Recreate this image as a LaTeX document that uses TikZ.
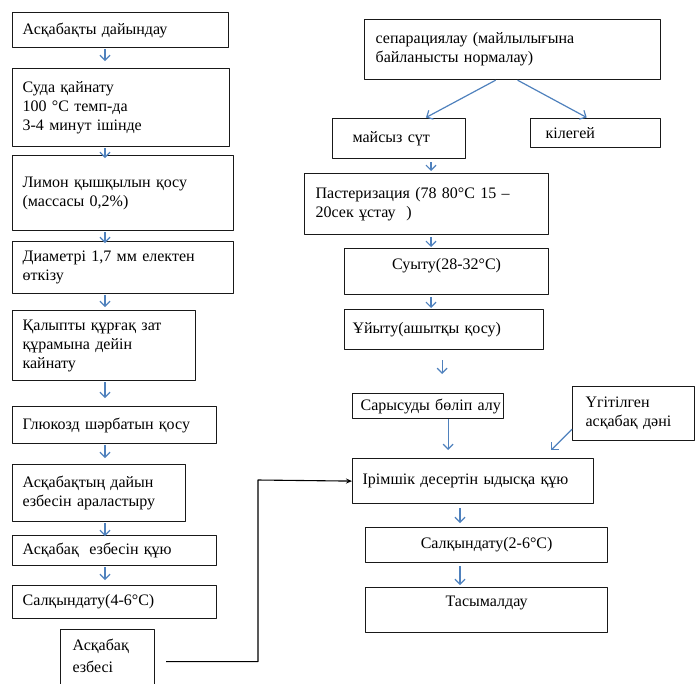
\documentclass[tikz,border=0pt]{standalone}
\usepackage{fontspec}
\setmainfont{Liberation Serif}
\usetikzlibrary{arrows.meta}
\definecolor{flowblue}{RGB}{79,129,189}
\begin{document}
\begin{tikzpicture}[x=1pt, y=-1pt, font=\fontsize{16}{19}\selectfont, line join=round,
    box/.style={draw=black!90, line width=1.2pt, anchor=north west, align=left, inner xsep=10pt, inner ysep=2pt},
    flow/.style={draw=flowblue, line width=1.2pt, -{Straight Barb[length=5pt,width=10pt]}, shorten <=3pt, shorten >=5pt}]
    \useasboundingbox (0,0) rectangle (695,683);
    % left column
    \node[box, text width=196pt, minimum height=35pt] (a1) at (12,12) {Асқабақты дайындау};
    \node[box, text width=197pt, minimum height=78pt] (a2) at (12,68) {Суда қайнату\\100 °С темп-да\\3-4 минут ішінде};
    \node[box, text width=201pt, minimum height=75pt] (a3) at (12,155) {Лимон қышқылын қосу\\(массасы 0,2\%)};
    \node[box, text width=201pt, minimum height=52pt] (a4) at (12,241) {Диаметрі 1,7 мм електен\\өткізу};
    \node[box, text width=163pt, minimum height=70pt] (a5) at (12,310) {Қалыпты құрғақ зат\\құрамына дейін\\кайнату};
    \node[box, text width=184pt, minimum height=37pt] (a6) at (12,406) {Глюкозд шәрбатын қосу};
    \node[box, text width=153pt, minimum height=57pt] (a7) at (12,464) {Асқабақтың дайын\\езбесін араластыру};
    \node[box, text width=184pt, minimum height=30pt] (a8) at (12,535) {Асқабақ\ \ езбесін құю};
    \node[box, text width=184pt, minimum height=33pt] (a9) at (12,585) {Салқындату(4-6°С)};
    \node[box, inner xsep=12pt, text width=70pt, minimum height=56pt] (a10) at (60,629) {\raisebox{3pt}[\height][\depth]{Асқабақ}\\езбесі};
    \coordinate (lc) at (105,0);
    \foreach \i/\j/\s in {a1/a2/7,a2/a3/-3,a3/a4/-2,a4/a5/3,a5/a6/8,a6/a7/6,a7/a8/-1,a8/a9/5}
        \draw[flow, shorten <=1pt, shorten >=\s pt] (\i.south -| lc) -- (\j.north -| lc);
    % right column
    \node[box, inner xsep=11pt, text width=274pt, minimum height=60pt] (r1) at (364,19) {сепарациялау (майлылығына\\байланысты нормалау)};
    \node[box, inner xsep=20pt, text width=93pt, minimum height=40pt] (r2) at (332,118) {майсыз сүт};
    \node[box, inner xsep=15pt, text width=100pt, minimum height=29pt] (r3) at (530,118) {кілегей};
    \node[box, inner xsep=11pt, text width=222pt, minimum height=61pt] (r4) at (304,173) {Пастеризация (78 80°С 15 –\\20сек ұстау\ \ )};
    \node[box, align=center, text width=184pt, minimum height=46pt] (r5) at (344,248) {\raisebox{6pt}[\height][\depth]{Суыту(28-32°С)}};
    \node[box, inner xsep=8pt, text width=183pt, minimum height=40pt] (r6) at (344,309) {Ұйыту(ашытқы қосу)};
    \node[box, inner xsep=8pt, text width=135pt, minimum height=25pt] (r7) at (352,393) {\mbox{Сарысуды бөліп алу}};
    \node[box, inner xsep=13pt, text width=96pt, minimum height=54pt] (r8) at (572,386) {Үгітілген\\асқабақ дәні};
    \node[box, text width=221pt, minimum height=45pt] (r9) at (352,458) {Ірімшік десертін ыдысқа құю};
    \node[box, align=center, text width=222pt, minimum height=35pt] (r10) at (365,527) {Салқындату(2-6°С)};
    \node[box, align=center, text width=222pt, minimum height=45pt] (r11) at (365,587) {\raisebox{7pt}[\height][\depth]{Тасымалдау}};
    \coordinate (rc) at (431,0);
    \coordinate (mc) at (460,0);
    \draw[flow, shorten <=0pt, shorten >=1pt] ([xshift=-17pt]r1.south) -- ([xshift=26pt]r2.north);
    \draw[flow, shorten <=0pt, shorten >=1pt] ([xshift=5pt]r1.south) -- ([xshift=-8pt]r3.north);
    \draw[flow, shorten >=2pt] (r2.south -| rc) -- (r4.north -| rc);
    \draw[flow, shorten <=2pt, shorten >=1pt] (r4.south -| rc) -- (r5.north -| rc);
    \draw[flow, shorten <=2pt, shorten >=1pt] (r5.south -| rc) -- (r6.north -| rc);
    \draw[flow, shorten <=10pt, shorten >=19pt] ([xshift=-2pt]r6.south) -- ([xshift=-2pt]r6.south |- r7.north);
    \draw[flow, shorten <=0pt, shorten >=8pt] ([xshift=20pt]r7.south) -- ([xshift=20pt]r7.south |- r9.north);
    \draw[flow, shorten <=0pt, shorten >=0pt] ([yshift=12pt]r8.south west) -- ([xshift=-43pt,yshift=8pt]r9.north east);
    \draw[flow, shorten <=4pt, shorten >=4pt] (r9.south -| mc) -- (r10.north -| mc);
    \draw[flow, shorten <=3pt, shorten >=2pt] (r10.south -| mc) -- (r11.north -| mc);
    % puree into the dessert
    \coordinate (bend) at (258,480);
    \draw[line width=1.1pt, -{Stealth[length=6pt,width=5pt]}] ([xshift=11pt,yshift=-4pt]a10.east) -| (bend) -- (r9.west);
\end{tikzpicture}
\end{document}
